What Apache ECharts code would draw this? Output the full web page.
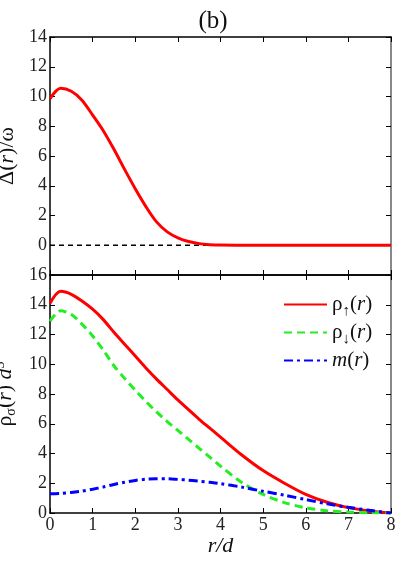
<!DOCTYPE html>
<html>
<head>
<meta charset="utf-8">
<script src="https://cdn.jsdelivr.net/npm/echarts@6/dist/echarts.min.js"></script>
<style>
  html, body { margin: 0; padding: 0; background: #fff; }
  #chart { width: 399px; height: 561px; }
</style>
</head>
<body>
<div id="chart"></div>
<script>
// radial positions r/d shared by all curves
var rVals = [0, 0.25, 0.5, 0.75, 1, 1.25, 1.5, 1.75, 2, 2.25, 2.5, 2.75, 3, 3.25, 3.5, 3.75, 4, 4.5, 5, 5.5, 6, 6.5, 7, 7.5, 8];

// top panel: gap Delta(r)/omega
var delta = [9.85, 10.55, 10.35, 9.75, 8.75, 7.7, 6.45, 5.1, 3.8, 2.6, 1.57, 0.9, 0.5, 0.25, 0.11, 0.04, 0.01, 0, 0, 0, 0, 0, 0, 0, 0];
var zeroX = [0, 8];
var zeroY = [0, 0];

// bottom panel: densities and magnetisation
var rhoUp = [14.1, 14.9, 14.7, 14.25, 13.7, 13.0, 12.15, 11.35, 10.55, 9.75, 9.0, 8.3, 7.6, 6.95, 6.3, 5.7, 5.1, 3.9, 2.85, 2.0, 1.25, 0.72, 0.36, 0.14, 0];
var rhoDown = [12.9, 13.6, 13.35, 12.7, 11.9, 10.95, 9.9, 9.05, 8.25, 7.5, 6.8, 6.15, 5.55, 4.95, 4.35, 3.75, 3.15, 2.05, 1.25, 0.7, 0.35, 0.15, 0.06, 0.02, 0];
var magn = [1.3, 1.32, 1.38, 1.47, 1.6, 1.75, 1.92, 2.07, 2.19, 2.27, 2.3, 2.3, 2.26, 2.21, 2.14, 2.06, 1.97, 1.74, 1.46, 1.2, 0.9, 0.62, 0.38, 0.18, 0];

var legendNames = ['rhoUp', 'rhoDown', 'm'];

function pairs(xs, ys) {
    var out = [];
    for (var i = 0; i < xs.length; i++) {
        out.push([xs[i], ys[i]]);
    }
    return out;
}

var serif = 'Liberation Serif';
var labelStyle = { color: '#222', fontFamily: serif, fontSize: 18 };

function xAx(grid, pos, showLabels) {
    return {
        type: 'value', gridIndex: grid, position: pos,
        min: 0, max: 8, interval: 1,
        axisLine: { show: true, onZero: false, lineStyle: { color: '#000', width: 1.5 } },
        axisTick: { show: true, inside: true, length: 5, lineStyle: { color: '#000' } },
        axisLabel: showLabels ? Object.assign({ margin: 3 }, labelStyle) : { show: false },
        splitLine: { show: false }
    };
}

function yAx(grid, pos, min, max, hideMin) {
    var ax = {
        type: 'value', gridIndex: grid, position: pos,
        min: min, max: max, interval: 2,
        axisLine: { show: true, onZero: false, lineStyle: { color: pos === 'right' ? '#888' : '#000', width: pos === 'right' ? 2 : 1.5 } },
        axisTick: { show: true, inside: true, length: 5, lineStyle: { color: '#000' } },
        axisLabel: { show: false },
        splitLine: { show: false }
    };
    if (pos === 'left') {
        ax.axisLabel = Object.assign({
            margin: 3,
            formatter: function (v) { return (hideMin && v === min) ? '' : String(v); }
        }, labelStyle);
    }
    return ax;
}

var chart = echarts.init(document.getElementById('chart'));

var yTop = yAx(0, 'left', -2, 14, true);
yTop.name = 'Δ({i|r})/ω';
yTop.nameLocation = 'middle';
yTop.nameGap = 23;
yTop.nameRotate = 90;
yTop.nameTextStyle = {
    fontFamily: serif, fontSize: 22, color: '#111',
    rich: { i: { fontFamily: serif, fontSize: 22, fontStyle: 'italic', color: '#111' } }
};

var yBot = yAx(1, 'left', 0, 16, false);
yBot.name = 'ρ{sub|σ}({i|r}) {i|d}{sup|3}';
yBot.nameLocation = 'middle';
yBot.nameGap = 23;
yBot.nameRotate = 90;
yBot.nameTextStyle = {
    fontFamily: serif, fontSize: 22, color: '#111',
    rich: {
        i: { fontFamily: serif, fontSize: 22, fontStyle: 'italic', color: '#111' },
        sub: { fontFamily: serif, fontSize: 14, color: '#111', padding: [12, 0, 0, 0] },
        sup: { fontFamily: serif, fontSize: 14, color: '#111', padding: [0, 0, 10, 0] }
    }
};

var xBot = xAx(1, 'bottom', true);
xBot.name = 'r/d';
xBot.nameLocation = 'middle';
xBot.nameGap = 22;
xBot.nameTextStyle = { fontFamily: serif, fontSize: 22, fontStyle: 'italic', color: '#111' };

chart.setOption({
    animation: false,
    textStyle: { fontFamily: serif },
    title: {
        text: '(b)', left: 208, top: 4, textAlign: 'center',
        textStyle: { fontFamily: serif, fontSize: 25, fontWeight: 'normal', color: '#111' }
    },
    grid: [
        { left: 50, right: 8, top: 37, height: 238, outerBoundsMode: 'none', containLabel: false },
        { left: 50, right: 8, top: 275, height: 238, outerBoundsMode: 'none', containLabel: false }
    ],
    xAxis: [xAx(0, 'bottom', false), xAx(0, 'top', false), xBot, xAx(1, 'top', false)],
    yAxis: [yTop, yAx(0, 'right', -2, 14, true), yBot, yAx(1, 'right', 0, 16, false)],
    legend: {
        orient: 'vertical', left: 278, top: 289,
        itemWidth: 43, itemHeight: 14, itemGap: 3,
        data: legendNames,
        itemStyle: { opacity: 0 },
        formatter: function (name) {
            if (name === 'rhoUp') return 'ρ{s|↑}({i|r})';
            if (name === 'rhoDown') return 'ρ{s|↓}({i|r})';
            return '{i|m}({i|r})';
        },
        textStyle: {
            fontFamily: serif, fontSize: 21, color: '#111',
            rich: {
                i: { fontFamily: serif, fontSize: 21, fontStyle: 'italic', color: '#111' },
                s: { fontFamily: serif, fontSize: 15, color: '#111', padding: [14, 0, 0, 0] }
            }
        }
    },
    series: [
        {
            name: 'zero', type: 'line', xAxisIndex: 0, yAxisIndex: 0,
            data: pairs(zeroX, zeroY), showSymbol: false, symbol: 'none',
            lineStyle: { color: '#000', width: 1.5, type: [5, 4] }
        },
        {
            name: 'delta', type: 'line', xAxisIndex: 0, yAxisIndex: 0,
            data: pairs(rVals, delta), symbol: 'none', smooth: 0.3,
            lineStyle: { color: '#ff0000', width: 3 }
        },
        {
            name: 'rhoUp', type: 'line', xAxisIndex: 2, yAxisIndex: 2,
            data: pairs(rVals, rhoUp), symbol: 'none', smooth: 0.3,
            itemStyle: { color: '#ff0000' },
            lineStyle: { color: '#ff0000', width: 3 }
        },
        {
            name: 'rhoDown', type: 'line', xAxisIndex: 2, yAxisIndex: 2,
            data: pairs(rVals, rhoDown), symbol: 'none', smooth: 0.3,
            itemStyle: { color: '#22ee22' },
            lineStyle: { color: '#22ee22', width: 3, type: [8, 5] }
        },
        {
            name: 'm', type: 'line', xAxisIndex: 2, yAxisIndex: 2,
            data: pairs(rVals, magn), symbol: 'none', smooth: 0.3,
            itemStyle: { color: '#0000ff' },
            lineStyle: { color: '#0000ff', width: 3, type: [9, 4, 3, 4] }
        }
    ]
});
</script>
</body>
</html>
